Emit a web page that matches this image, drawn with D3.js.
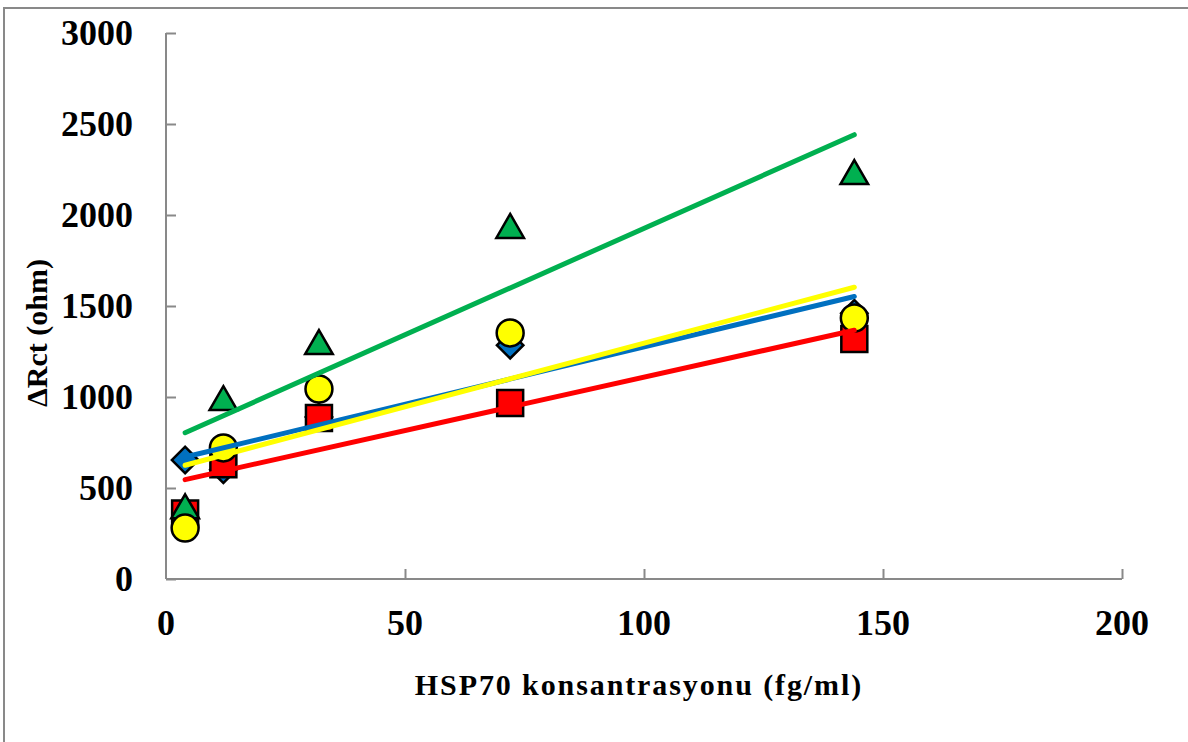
<!DOCTYPE html>
<html>
<head>
<meta charset="utf-8">
<script src="https://cdn.jsdelivr.net/npm/d3@7"></script>
<style>
  html, body { margin: 0; padding: 0; background: #fff; }
  svg { display: block; }
  text { font-family: "Liberation Serif", "Times New Roman", serif; font-weight: bold; fill: #000; }
</style>
</head>
<body>
<div id="chart"></div>
<script>
// concentrations (fg/ml)
const concentrations = [4, 12, 32, 72, 144];
// delta Rct (ohm) for each series
const blueValues = [654, 600, 890, 1285, 1460];
const redValues = [360, 630, 885, 967, 1319];
const greenValues = [400, 994, 1302, 1940, 2236];
const yellowValues = [280, 720, 1044, 1352, 1434];
// tick labels
const xTicks = [0, 50, 100, 150, 200];
const yTicks = [0, 500, 1000, 1500, 2000, 2500, 3000];

const series = [
    { name: 'blue', values: blueValues, color: '#0070C0', shape: 'diamond' },
    { name: 'red', values: redValues, color: '#FF0000', shape: 'square' },
    { name: 'green', values: greenValues, color: '#00B050', shape: 'triangle' },
    { name: 'yellow', values: yellowValues, color: '#FFFF00', shape: 'circle' }
];

const width = 1188;
const height = 742;
const axisColor = '#898989';

const svg = d3.select('#chart')
    .append('svg')
    .attr('width', width)
    .attr('height', height);

// outer frame of the chart area
svg.append('rect')
    .attr('x', 4)
    .attr('y', 8)
    .attr('width', width + 20)
    .attr('height', height + 20)
    .attr('fill', 'none')
    .attr('stroke', axisColor)
    .attr('stroke-width', 2);

const x = d3.scaleLinear().domain([0, 200]).range([166, 1122]);
const y = d3.scaleLinear().domain([0, 3000]).range([579, 33]);

// y axis: line on the left, ticks pointing inward
const yAxis = d3.axisRight(y).tickValues(yTicks).tickSize(10).tickFormat('');
svg.append('g')
    .attr('transform', `translate(${x(0)},0)`)
    .call(yAxis)
    .call(g => g.select('.domain').attr('d', `M0,${y(0)}V${y(3000)}`))
    .call(g => g.selectAll('line, path').attr('stroke', axisColor).attr('stroke-width', 2));

// x axis: ticks pointing up
const xAxis = d3.axisTop(x).tickValues(xTicks.filter(d => d > 0)).tickSize(10).tickFormat('');
svg.append('g')
    .attr('transform', `translate(0,${y(0)})`)
    .call(xAxis)
    .call(g => g.select('.domain').attr('d', `M${x(0)},0H${x(200)}`))
    .call(g => g.selectAll('line, path').attr('stroke', axisColor).attr('stroke-width', 2));

// tick labels
svg.append('g').selectAll('text')
    .data(yTicks)
    .enter()
    .append('text')
    .attr('x', 133)
    .attr('y', d => y(d))
    .attr('dy', '0.34em')
    .attr('text-anchor', 'end')
    .style('font-size', '36px')
    .text(d => d);

svg.append('g').selectAll('text')
    .data(xTicks)
    .enter()
    .append('text')
    .attr('x', d => x(d))
    .attr('y', 635)
    .attr('text-anchor', 'middle')
    .style('font-size', '36px')
    .text(d => d);

// axis titles
svg.append('text')
    .attr('x', 639)
    .attr('y', 695)
    .attr('text-anchor', 'middle')
    .style('font-size', '30px')
    .style('letter-spacing', '1.9px')
    .text('HSP70 konsantrasyonu (fg/ml)');

svg.append('text')
    .attr('transform', 'translate(47,333) rotate(-90)')
    .attr('text-anchor', 'middle')
    .style('font-size', '30px')
    .text('ΔRct (ohm)');

// marker shapes
function markerPath(shape) {
    if (shape === 'diamond') return d3.symbol(d3.symbolSquare, 350)();
    if (shape === 'square') return d3.symbol(d3.symbolSquare, 676)();
    if (shape === 'triangle') return d3.symbol(d3.symbolTriangle, 330)();
    return d3.symbol(d3.symbolCircle, 570)();
}

const markers = svg.append('g');
series.forEach(s => {
    markers.append('g').selectAll('path')
        .data(s.values.map((v, i) => ({ x: concentrations[i], y: v })))
        .enter()
        .append('path')
        .attr('d', markerPath(s.shape))
        .attr('transform', d => {
            let t = `translate(${x(d.x)},${y(d.y)})`;
            if (s.shape === 'diamond') t += ' rotate(45)';
            if (s.shape === 'triangle') t = `translate(${x(d.x)},${y(d.y) + 4})`;
            return t;
        })
        .attr('fill', s.color)
        .attr('stroke', '#000')
        .attr('stroke-width', 2.5);
});

// linear trendlines (least squares) from the first to the last concentration
function linearFit(xs, ys) {
    const mx = d3.mean(xs);
    const my = d3.mean(ys);
    let sxy = 0, sxx = 0;
    xs.forEach((xv, i) => {
        sxy += (xv - mx) * (ys[i] - my);
        sxx += (xv - mx) * (xv - mx);
    });
    const slope = sxy / sxx;
    return { slope: slope, intercept: my - slope * mx };
}

const line = d3.line().x(d => x(d[0])).y(d => y(d[1]));
const xRange = d3.extent(concentrations);
const trends = svg.append('g');
series.forEach(s => {
    const fit = linearFit(concentrations, s.values);
    trends.append('path')
        .attr('d', line(xRange.map(xv => [xv, fit.intercept + fit.slope * xv])))
        .attr('fill', 'none')
        .attr('stroke', s.color)
        .attr('stroke-width', 5)
        .attr('stroke-linecap', 'round');
});
</script>
</body>
</html>
